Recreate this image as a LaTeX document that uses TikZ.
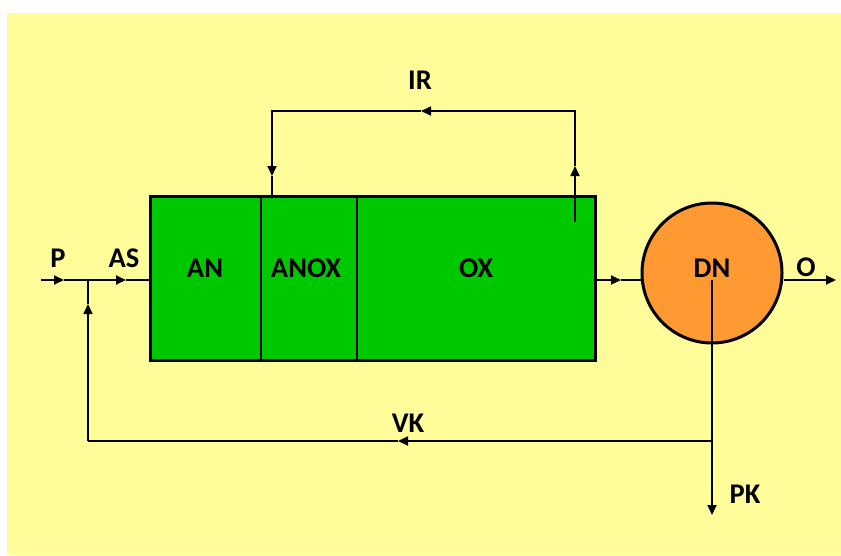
\documentclass[tikz,border=0pt]{standalone}
\usepackage{fontspec}
\setmainfont{Carlito}
\usetikzlibrary{arrows.meta}
\definecolor{bgyellow}{HTML}{FFFD99}
\definecolor{tankgreen}{HTML}{00C800}
\definecolor{dnorange}{HTML}{FF9A33}
\tikzset{
  conn/.style={line width=1.7pt, draw=black},
  tri/.tip={Triangle[length=10pt,width=9pt]},
  lbl/.style={font=\fontsize{28.5}{30}\selectfont\bfseries, text=black, inner sep=0pt},
  tankbox/.style={draw=black, line width=3pt, fill=tankgreen, rectangle, inner sep=0pt},
  divider/.style={line width=1.6pt, draw=black},
  clarifier/.style={draw=black, line width=3pt, fill=dnorange, circle, inner sep=0pt}
}
\begin{document}
\begin{tikzpicture}[x=1pt,y=-1pt]
\useasboundingbox (0,0) rectangle (841,555);
\fill[white] (0,0) rectangle (841,555);
\fill[bgyellow] (7,13) rectangle (841,555);

% tank
\node[tankbox, minimum width=445pt, minimum height=164pt] (tank) at (372.5,278) {};
\draw[divider] (261,196) -- (261,360);
\draw[divider] (357,196) -- (357,360);
\node[lbl] (an) at (205,268) {AN};
\node[lbl] (anox) at (306,268) {ANOX};
\node[lbl] (ox) at (476,268) {OX};

% clarifier
\node[clarifier, minimum size=140pt] (dn) at (712,273) {};
\node[lbl] (dnl) at (712,268) {DN};

% labels
\node[lbl] (pl) at (58,258) {P};
\node[lbl] (asl) at (124,258) {AS};
\node[lbl] (irl) at (420,80) {IR};
\node[lbl] (vkl) at (408,423) {VK};
\node[lbl] (pkl) at (745,494) {PK};
\node[lbl] (ol) at (806,267) {O};

% coordinates
\coordinate (pin) at (41,280);
\coordinate (pa) at (64,280);
\coordinate (j) at (88,280);
\coordinate (asa) at (126,280);
\coordinate (ta) at (621,280);
\coordinate (oend) at (836,280);
\coordinate (dnc) at (712,280);
\coordinate (vk0) at (712,441);
\coordinate (pkend) at (712,515);
\coordinate (vka) at (398,441);
\coordinate (vk1) at (88,441);
\coordinate (vkb) at (88,304);
\coordinate (ir0) at (575,222);
\coordinate (ira) at (575,166);
\coordinate (ir1) at (575,111);
\coordinate (irb) at (421,111);
\coordinate (ir2) at (272,111);
\coordinate (irc) at (272,176);

% influent
\draw[conn,-{tri}] (pin) -- (pa);
\draw[conn,-{tri}] (pa) -- (asa);
\draw[conn] (asa) -- (j -| tank.west);

% tank to clarifier
\draw[conn,-{tri}] (j -| tank.east) -- (ta);
\draw[conn] (ta) -- (j -| dn.west);

% effluent
\draw[conn,-{tri}] (j -| dn.east) -- (oend);

% sludge
\draw[conn] (dnc) -- (vk0);
\draw[conn,-{tri}] (vk0) -- (pkend);
\draw[conn,-{tri}] (vk0) -- (vka);
\draw[conn] (vka) -- (vk1);
\draw[conn,-{tri}] (vk1) -- (vkb);
\draw[conn] (vkb) -- (j);

% internal recycle
\draw[conn,-{tri}] (ir0) -- (ira);
\draw[conn,-{tri}] (ira) -- (ir1) -- (irb);
\draw[conn,-{tri}] (irb) -- (ir2) -- (irc);
\draw[conn] (irc) -- (ir2 |- tank.north);
\end{tikzpicture}
\end{document}
